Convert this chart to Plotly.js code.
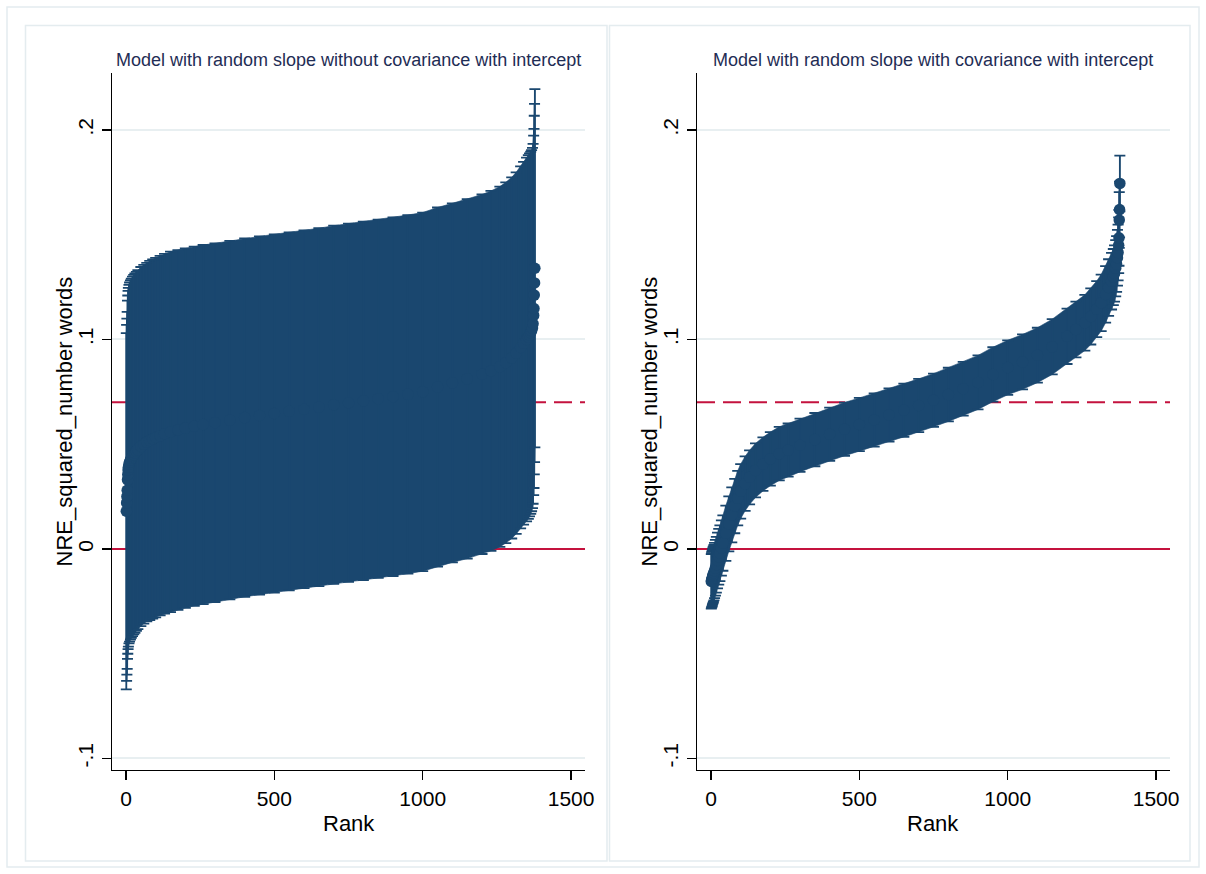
<!DOCTYPE html>
<html><head><meta charset="utf-8">
<script src="https://cdn.plot.ly/plotly-3.0.1.min.js"></script>
<style>html,body{margin:0;padding:0;background:#fff}#chart{width:1206px;height:874px}</style>
</head><body><div id="chart"></div>
<script>
// ---- data ----
const ranks = [1,2,3,4,5,6,7,8,
  10,12,15,18,22,26,30,35,40,
  50,60,70,80,90,100,
  115,130,150,175,200,230,260,300,
  350,400,450,500,550,600,650,700,750,800,850,900,950,1000,1050,1100,1150,1200,
  1230,1260,1280,1300,1315,1330,1340,1350,1356,1360,1364,1367,1370,1372,1374,1375,1376,1377,1378];

const estLeft = [0.018,0.022,0.025,0.028,0.033,0.0355,0.0377,0.039,
  0.0405,0.0415,0.0425,0.0433,0.0442,0.045,0.0458,0.0466,0.0474,
  0.0489,0.05,0.051,0.0518,0.0525,0.0532,
  0.0541,0.055,0.0559,0.0568,0.0577,0.0586,0.0594,0.0603,
  0.0615,0.0627,0.0637,0.0647,0.0657,0.0667,0.0677,0.0688,0.0698,0.0707,0.0717,0.0727,0.0738,0.075,0.0773,0.0793,0.0812,0.0834,
  0.085,0.087,0.0889,0.0912,0.0935,0.0962,0.0982,0.1,0.1012,0.1022,0.1032,0.1042,0.1055,0.1075,0.1115,0.1148,0.1212,0.127,0.134];

const hwLeft = [0.085,0.085,0.085,0.0852,0.0855,0.0855,0.0855,0.0856,
  0.0856,0.0857,0.0857,0.0857,0.0858,0.0858,0.0858,0.0857,0.0857,
  0.0857,0.0856,0.0856,0.0857,0.0857,0.0858,
  0.0858,0.0859,0.086,0.0859,0.0858,0.0857,0.0857,0.0856,
  0.0856,0.0855,0.0855,0.0855,0.0854,0.0854,0.0854,0.0855,0.0855,0.0855,0.0855,0.0856,0.0856,0.0856,0.0857,0.0857,0.0858,0.0858,
  0.0859,0.086,0.0861,0.0862,0.0863,0.0864,0.0866,0.0868,0.0868,0.0866,0.0864,0.0862,0.086,0.0859,0.0858,0.0857,0.0856,0.0855,0.0855];

const estRight = [-0.0155,-0.015,-0.0145,-0.014,-0.0135,-0.013,-0.0125,-0.012,
  -0.0113,-0.0103,-0.009,-0.0075,-0.0055,-0.0037,-0.002,0.0005,0.0028,
  0.0075,0.012,0.0163,0.0205,0.0243,0.0275,
  0.0312,0.0342,0.0375,0.0405,0.043,0.0455,0.0472,0.0495,
  0.0522,0.0548,0.0572,0.0594,0.0616,0.064,0.0662,0.0685,0.071,0.0737,0.0765,0.0795,0.0833,0.0866,0.0893,0.0925,0.0965,0.1015,
  0.1048,0.108,0.111,0.1145,0.1175,0.1215,0.1248,0.1278,0.1298,0.1315,0.134,0.136,0.139,0.1415,0.145,0.1485,0.157,0.162,0.1745];

const hwRight = [0.013,0.013,0.0131,0.0131,0.0131,0.0132,0.0132,0.0132,
  0.0132,0.0132,0.0133,0.0133,0.0133,0.0133,0.0133,0.0132,0.0132,
  0.0132,0.0131,0.0131,0.013,0.013,0.013,
  0.013,0.0129,0.0129,0.0128,0.0128,0.0128,0.0127,0.0127,
  0.0127,0.0127,0.0127,0.0127,0.0127,0.0127,0.0127,0.0127,0.0127,0.0128,0.0128,0.0129,0.013,0.013,0.0131,0.0131,0.0132,0.0132,
  0.0133,0.0133,0.0134,0.0134,0.0135,0.0135,0.0135,0.0135,0.0134,0.0134,0.0134,0.0133,0.0133,0.0133,0.0133,0.0133,0.0133,0.0133,0.0133];

const xTickVals = [0, 500, 1000, 1500];
const yTickVals = [-0.1, 0, 0.1, 0.2];
const yTickText = ['-.1', '0', '.1', '.2'];
const solidLineValue = 0;
const dashedLineValue = 0.07;
const panelTitles = ['Model with random slope without covariance with intercept',
                     'Model with random slope with covariance with intercept'];
const yTitle = 'NRE_squared_number words';
const xTitle = 'Rank';

// ---- styling ----
const W = 1206, H = 874;
const X_RANGE = [-47.2, 1547], Y_RANGE = [-0.1055, 0.2272];
const NAVY = '#1a476f', RED = '#c4123e', GRID = '#e8eff1', FRAME = '#e4ecef';
const FONT = 'Liberation Sans, Arial, Helvetica, sans-serif';
const fx = x => x / W, fy = y => 1 - y / H;

function refLine(val, dash, xa, ya) {
  return {type: 'scatter', mode: 'lines', x: X_RANGE, y: [val, val],
    line: {color: RED, width: 2, dash: dash}, xaxis: xa, yaxis: ya, hoverinfo: 'skip', showlegend: false};
}

function panelTraces(est, hw, xa, ya) {
  const hi = est.map((v, i) => v + hw[i]);
  const lo = est.map((v, i) => v - hw[i]);
  const band = {type: 'scatter', mode: 'lines',
    x: ranks.concat(ranks.slice().reverse()),
    y: hi.concat(lo.slice().reverse()),
    fill: 'toself', fillcolor: NAVY, line: {width: 0.6, color: NAVY},
    xaxis: xa, yaxis: ya, hoverinfo: 'skip', showlegend: false};
  const pts = {type: 'scatter', mode: 'markers', x: ranks, y: est,
    marker: {size: 11.5, color: NAVY},
    error_y: {type: 'data', array: hw, visible: true, color: NAVY, thickness: 1.8, width: 5.5},
    xaxis: xa, yaxis: ya, showlegend: false};
  return [refLine(solidLineValue, 'solid', xa, ya), refLine(dashedLineValue, '18px,8px', xa, ya), band, pts];
}

const data = panelTraces(estLeft, hwLeft, 'x', 'y').concat(panelTraces(estRight, hwRight, 'x2', 'y2'));

const xCommon = {range: X_RANGE, tickvals: xTickVals, ticks: 'outside', ticklen: 9, tickwidth: 1.3,
  tickcolor: '#000', showline: true, linecolor: '#000', linewidth: 1.3, showgrid: false, zeroline: false,
  tickfont: {size: 21, color: '#000', family: FONT}, fixedrange: true};
const yCommon = {range: Y_RANGE, tickvals: yTickVals, ticktext: yTickText, tickangle: -90,
  ticks: 'outside', ticklen: 9, tickwidth: 1.3, tickcolor: '#000', showline: true, linecolor: '#000', linewidth: 1.3,
  showgrid: true, gridcolor: GRID, gridwidth: 2, zeroline: false,
  tickfont: {size: 21, color: '#000', family: FONT}, domain: [fy(770), fy(73)], fixedrange: true};

function rectPx(x0, y0, x1, y1) {
  return {type: 'rect', xref: 'paper', yref: 'paper', x0: fx(x0), x1: fx(x1), y0: fy(y1), y1: fy(y0),
    line: {color: FRAME, width: 1.5}, fillcolor: 'rgba(0,0,0,0)', layer: 'below'};
}

const annotations = [];
[[112, 585, 64], [697, 1170, 649]].forEach((p, i) => {
  const cx = (p[0] + p[1]) / 2;
  annotations.push({text: panelTitles[i], xref: 'paper', yref: 'paper', x: fx(cx), y: fy(60),
    xanchor: 'center', yanchor: 'middle', showarrow: false, font: {size: 18, color: '#1f2d55', family: FONT}});
  annotations.push({text: yTitle, xref: 'paper', yref: 'paper', x: fx(p[2]), y: fy(421.5), textangle: -90,
    xanchor: 'center', yanchor: 'middle', showarrow: false, font: {size: 22, color: '#000', family: FONT}});
  annotations.push({text: xTitle, xref: 'paper', yref: 'paper', x: fx(cx), y: fy(823),
    xanchor: 'center', yanchor: 'middle', showarrow: false, font: {size: 22, color: '#000', family: FONT}});
});

const layout = {
  width: W, height: H, margin: {l: 0, r: 0, t: 0, b: 0},
  paper_bgcolor: '#fff', plot_bgcolor: '#fff', showlegend: false,
  font: {family: FONT, color: '#000'},
  xaxis: Object.assign({}, xCommon, {domain: [fx(112), fx(585)], anchor: 'y'}),
  yaxis: Object.assign({}, yCommon, {anchor: 'x'}),
  xaxis2: Object.assign({}, xCommon, {domain: [fx(697), fx(1170)], anchor: 'y2'}),
  yaxis2: Object.assign({}, yCommon, {anchor: 'x2'}),
  shapes: [
    rectPx(7, 7, 1199, 867),
    rectPx(25.5, 25.5, 607, 861),
    rectPx(609.5, 25.5, 1190, 861)
  ],
  annotations: annotations
};

Plotly.newPlot('chart', data, layout, {displayModeBar: false, staticPlot: true});
</script>
</body></html>
